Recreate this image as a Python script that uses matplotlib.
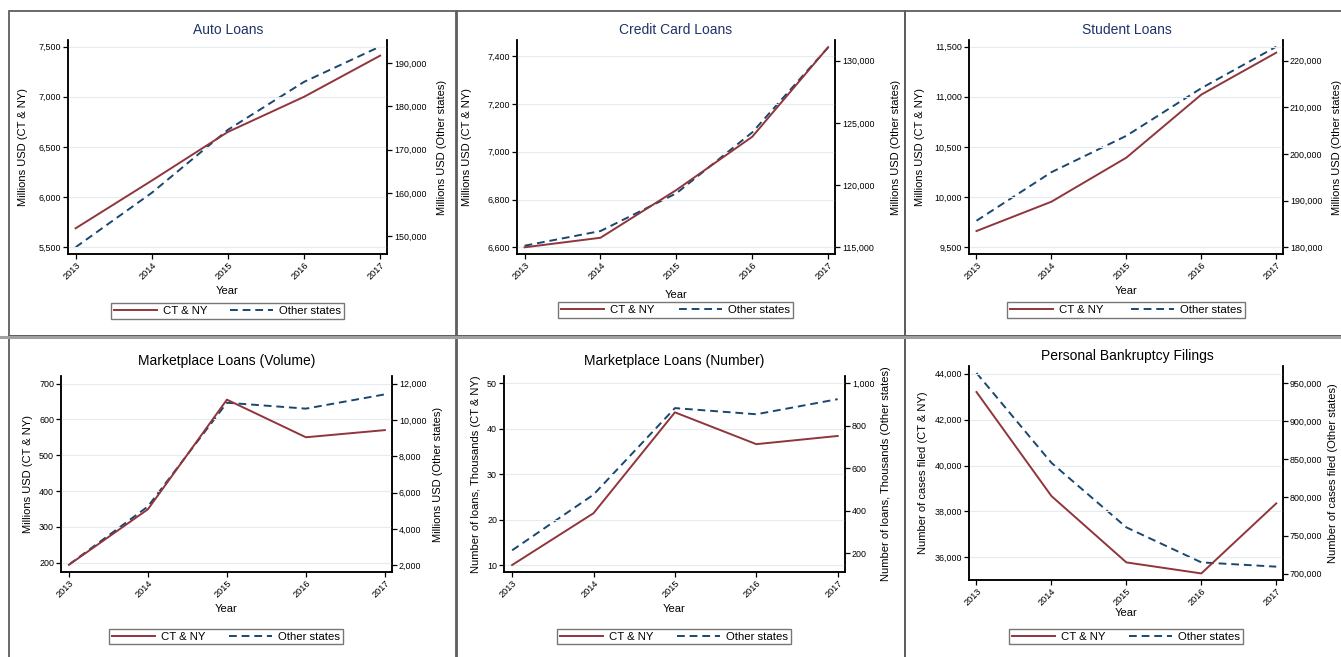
import numpy as np
import matplotlib.pyplot as plt
from matplotlib.lines import Line2D
from matplotlib.patches import Rectangle
from matplotlib.ticker import FuncFormatter

plt.rcParams['font.family'] = ['Liberation Sans', 'DejaVu Sans']

W, H = 1341, 657

# データ
years = [2013, 2014, 2015, 2016, 2017]

auto_ctny = [5690, 6165, 6650, 7000, 7410]
auto_other = [147400, 160000, 174600, 185700, 193900]

cc_ctny = [6600, 6640, 6840, 7063, 7438]
cc_other = [115130, 116310, 119340, 124240, 131070]

student_ctny = [9663, 9955, 10394, 11022, 11440]
student_other = [185700, 196100, 203900, 214100, 223000]

mvol_ctny = [194, 349, 655, 550, 570]
mvol_other = [2040, 5240, 10950, 10625, 11410]

mnum_ctny = [10.0, 21.4, 43.6, 36.6, 38.4]
mnum_other = [214, 476, 883, 854, 925]

bank_ctny = [43200, 38670, 35780, 35300, 38350]
bank_other = [963100, 845300, 760700, 714800, 709200]

titles = ['Auto Loans', 'Credit Card Loans', 'Student Loans',
          'Marketplace Loans (Volume)', 'Marketplace Loans (Number)',
          'Personal Bankruptcy Filings']
left_labels = ['Millions USD (CT & NY)'] * 4 + ['Number of loans, Thousands (CT & NY)',
                                                 'Number of cases filed (CT & NY)']
right_labels = ['Millions USD (Other states)'] * 4 + ['Number of loans, Thousands (Other states)',
                                                       'Number of cases filed (Other states)']
series_ctny = [auto_ctny, cc_ctny, student_ctny, mvol_ctny, mnum_ctny, bank_ctny]
series_other = [auto_other, cc_other, student_other, mvol_other, mnum_other, bank_other]

left_ticks = [np.arange(5500, 7501, 500), np.arange(6600, 7401, 200),
              np.arange(9500, 11501, 500), np.arange(200, 701, 100),
              np.arange(10, 51, 10), np.arange(36000, 44001, 2000)]
right_ticks = [np.arange(150000, 190001, 10000), np.arange(115000, 130001, 5000),
               np.arange(180000, 220001, 10000), np.arange(2000, 12001, 2000),
               np.arange(200, 1001, 200), np.arange(700000, 950001, 50000)]

# レイアウト（ピクセル）
left_lim = [(5434, 7566), (6572, 7468), (9434, 11566), (174, 721), (8.46, 51.6), (35014, 44333)]
right_lim = [(145830, 195405), (114464, 131661), (178571, 224429), (1634, 12421), (112, 1034),
             (691710, 972250)]
axes_box = [(68, 40, 387, 254), (517, 40, 835, 254), (969, 40, 1283, 254),
            (61, 376, 392, 572), (504, 376, 845, 572), (969, 366, 1283, 580)]
title_pos = [(228, 30), (676, 30), (1127, 30), (227, 361), (674, 361), (1127, 356)]
year_y = [291, 295, 291, 609, 609, 613]
ylab_l = [23, 467, 920, 28, 476, 923]
ylab_r = [442, 896, 1337, 438, 886, 1333]
legend_box = [(111, 301, 344, 321), (558, 300, 793, 320), (1007, 300, 1245, 320),
              (109, 626, 343, 647), (557, 626, 791, 647), (1009, 626, 1243, 647)]
panels = [(9, 11, 456, 336), (457, 11, 905, 336), (905, 11, 1353, 336),
          (9, 336, 456, 661), (457, 336, 905, 661), (905, 336, 1353, 661)]

RED = '#90353b'
NAVY = '#1a476f'
TITLE_NAVY = '#1f3366'
GRID = '#e4ecef'


def fx(x):
    return x / W


def fy(y):
    return 1 - y / H


fmt = FuncFormatter(lambda v, p: f'{v:,.0f}')

fig = plt.figure(figsize=(W / 100, H / 100), dpi=100)

for l, t, r, b in panels:
    fig.add_artist(Rectangle((fx(l), fy(b)), fx(r - l), (b - t) / H, transform=fig.transFigure,
                             fill=False, edgecolor='#5e5e5e', lw=1.3))
fig.add_artist(Line2D([0, 1], [fy(336.5), fy(336.5)], transform=fig.transFigure,
                      color='#a0a0a0', lw=2.2))

for i in range(6):
    l, t, r, b = axes_box[i]
    ax = fig.add_axes([fx(l), fy(b), fx(r - l), (b - t) / H])
    ax2 = ax.twinx()

    ax.plot(years, series_ctny[i], color=RED, lw=1.4, label='CT & NY', zorder=3)
    ax2.plot(years, series_other[i], color=NAVY, lw=1.4, ls=(0, (4, 2.5)), label='Other states')

    ax.set_xlim(2012.9, 2017.09)
    ax.set_ylim(*left_lim[i])
    ax2.set_ylim(*right_lim[i])
    ax.set_xticks(years)
    ax.set_xticklabels([str(y) for y in years], rotation=45, ha='right', rotation_mode='anchor',
                       fontsize=6.6)
    ax.set_yticks(left_ticks[i])
    ax2.set_yticks(right_ticks[i])
    ax.yaxis.set_major_formatter(fmt)
    ax2.yaxis.set_major_formatter(fmt)
    ax.tick_params(axis='y', labelsize=6.4, length=3.5, width=0.9, pad=1.5)
    ax2.tick_params(axis='y', labelsize=6.4, length=3.5, width=0.9, pad=1.5)
    ax.tick_params(axis='x', length=3.5, width=0.9, pad=1.2)
    ax.grid(axis='y', color=GRID, lw=0.8)
    ax.set_axisbelow(True)
    for a in (ax, ax2):
        a.spines['top'].set_visible(False)
        for s in ('left', 'right', 'bottom'):
            a.spines[s].set_linewidth(1.1)
    ax.set_zorder(ax2.get_zorder() + 1)
    ax.patch.set_visible(False)

    cx = (l + r) / 2
    tcolor = TITLE_NAVY if i < 3 else 'black'
    fig.text(fx(title_pos[i][0]), fy(title_pos[i][1]), titles[i], ha='center', va='center',
             fontsize=10, color=tcolor)
    fig.text(fx(cx), fy(year_y[i]), 'Year', ha='center', va='center', fontsize=8)
    fig.text(fx(ylab_l[i]), fy((t + b) / 2), left_labels[i], rotation=90, ha='center',
             va='center', fontsize=8)
    fig.text(fx(ylab_r[i]), fy((t + b) / 2), right_labels[i], rotation=90, ha='center',
             va='center', fontsize=8)

    ll, lt, lr, lb = legend_box[i]
    h1 = Line2D([], [], color=RED, lw=1.4)
    h2 = Line2D([], [], color=NAVY, lw=1.4, ls=(0, (4, 2.5)))
    fig.legend([h1, h2], ['CT & NY', 'Other states'], ncol=2, mode='expand',
               bbox_to_anchor=(fx(ll), fy(lb), fx(lr - ll), (lb - lt) / H),
               bbox_transform=fig.transFigure, loc='center', fontsize=8.2,
               frameon=True, fancybox=False, edgecolor='#555555', handlelength=3.8,
               borderpad=0.25, handletextpad=0.5, columnspacing=1.5, borderaxespad=0)

fig.savefig('out.png', dpi=100)
